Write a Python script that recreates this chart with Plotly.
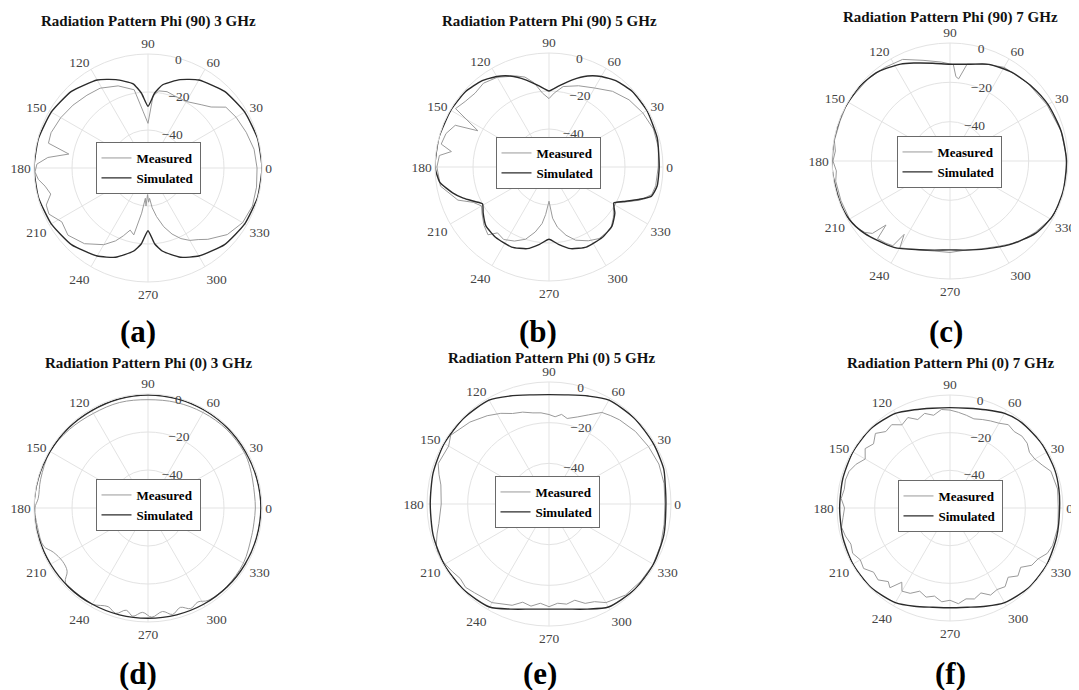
import plotly.graph_objects as go

# ---------------- data (dB vs angle in degrees) ----------------
titles = ["Radiation Pattern Phi (90) 3 GHz", "Radiation Pattern Phi (90) 5 GHz",
          "Radiation Pattern Phi (90) 7 GHz", "Radiation Pattern Phi (0) 3 GHz",
          "Radiation Pattern Phi (0) 5 GHz", "Radiation Pattern Phi (0) 7 GHz"]
panel_tags = ["(a)", "(b)", "(c)", "(d)", "(e)", "(f)"]
angle_ticks = [0, 30, 60, 90, 120, 150, 180, 210, 240, 270, 300, 330]
radial_ticks = [-40, -20, 0]

# (a) Phi 90, 3 GHz
a_sim_th = [0, 15, 30, 45, 60, 70, 80, 85, 90, 95, 100, 110, 120, 135, 150, 165, 180, 195, 210, 225,
            240, 250, 260, 265, 270, 275, 280, 290, 300, 315, 330, 345, 360]
a_sim = [0, -0.3, -1.2, -3, -6.5, -10.5, -15.5, -20.5, -27.5, -20.5, -15, -10.5, -6.5, -3, -1.2, -0.3,
         0, -0.3, -1.2, -3, -6.5, -10, -15.5, -20, -27, -20, -15.5, -10, -6.5, -3, -1.2, -0.3, 0]
a_meas_th = [0, 10, 20, 30, 38, 44, 50, 60, 70, 76, 82, 86, 90, 95, 100, 110, 121, 130, 140, 150, 160,
             166, 170, 174, 178, 182, 186, 190, 195, 200, 205, 212, 220, 230, 240, 246, 250, 254, 258,
             262, 265, 267, 269, 271, 273, 276, 280, 285, 290, 295, 300, 305, 310, 320, 330, 340, 350,
             360]
a_meas = [-2.6, -3.3, -5, -6.5, -8, -13.8, -16.5, -19.6, -19.5, -18.6, -19, -22, -36.5, -30, -18.2,
          -14, -11, -10, -8.5, -7, -5.7, -6, -17.7, -7, -1.5, -0.5, -2, -5, -7, -3, -2.5, -6.5, -5, -8,
          -13.4, -18, -22, -26, -24, -36, -44, -40, -46, -42, -44, -39, -34, -28, -23, -19, -16, -14,
          -11, -5.5, -2.5, -1.5, -2, -2.6]

# (b) Phi 90, 5 GHz
b_sim_th = [0, 15, 30, 42, 52, 60, 67, 75, 83, 90, 97, 105, 113, 120, 128, 138, 150, 165, 180, 188,
            195, 200, 205, 209, 215, 223, 233, 245, 255, 263, 270, 277, 285, 295, 307, 317, 325, 331,
            335, 340, 344, 350, 360]
b_sim = [-2, -1, -0.5, -0.8, -2.5, -5, -8, -12.5, -17, -20, -17, -12.5, -8, -5, -2.5, -0.8, -0.3, 0,
         0, -2, -7.5, -12, -17, -20, -17.7, -14.6, -13.5, -13.5, -15.5, -19, -22, -19, -15.5, -13.5,
         -13.5, -14.6, -17.7, -21, -17, -10, -4, -2.2, -2]
b_meas_th = [0, 10, 20, 30, 40, 50, 60, 70, 80, 86, 90, 95, 100, 105, 110, 120, 128, 135, 142, 148,
             153, 156, 162, 168, 171, 174, 180, 190, 200, 205, 210, 215, 222, 228, 232, 238, 245, 252,
             258, 263, 266, 270, 274, 278, 284, 290, 298, 305, 315, 322, 328, 332, 336, 340, 345, 350,
             360]
b_meas = [-2.5, -1.5, -1.5, -3, -5, -8, -12, -14.5, -17, -21, -24, -21, -15, -11, -9, -5.5, -4, -5,
          -4, -2, -18, -6, -3, -2, -8, -2, -1, -2, -9, -16, -19, -17, -14, -12, -16, -15, -17, -20, -25,
          -30, -35, -42, -33, -28, -23, -19, -16, -14, -14, -17, -20, -20, -15, -9, -4, -3, -2.5]

# (c) Phi 90, 7 GHz
c_sim_th = [0, 15, 30, 42, 55, 68, 78, 90, 100, 110, 117, 129, 140, 155, 170, 185, 200, 210, 220, 237,
            251, 260, 270, 280, 292, 305, 320, 332, 345, 360]
c_sim = [-0.8, -1.5, -2.5, -3.7, -5, -7, -9.7, -10.8, -9.5, -7, -4.7, -1.7, -0.5, 0, 0, 0, -0.3, -0.8,
         -3, -7.6, -12.3, -14, -14.8, -14, -11.8, -7.9, -3, -0.8, -0.5, -0.8]
c_meas_th = [0, 15, 30, 45, 60, 70, 80, 84, 86, 88, 95, 105, 115, 125, 135, 150, 160, 170, 175, 180,
             185, 190, 200, 210, 215, 220, 223, 225, 227, 232, 236, 238, 240, 250, 260, 270, 280, 290,
             300, 310, 320, 330, 340, 350, 360]
c_meas = [-0.3, -1.5, -3, -4, -5, -7.5, -10, -18, -17, -11, -9.5, -7, -3, -2, -1, 0, -0.5, -0.3, -1.5,
          -0.5, -2, -1, -1, -1, -1.5, -3.5, -6, -14, -6, -7, -8, -16, -9, -12, -13.5, -13.5, -14, -12.5,
          -10, -6, -3.5, -1, 0, -0.3, -0.3]

# (d) Phi 0, 3 GHz
d_sim_th = [0, 15, 30, 45, 60, 75, 90, 105, 120, 135, 150, 165, 180, 195, 210, 225, 240, 255, 270, 285,
            300, 315, 330, 345, 360]
d_sim = [-0.6, -0.7, -0.8, -0.7, -0.6, -0.5, -0.5, -0.6, -0.8, -0.6, -0.5, -0.2, 0, -0.4, -0.8, -1.1,
         -1.5, -1.8, -2, -1.8, -1.5, -1.2, -1, -0.8, -0.6]
d_meas_th = [0, 7, 15, 22, 30, 45, 60, 75, 90, 105, 120, 135, 150, 165, 175, 180, 190, 200, 205, 212,
             218, 222, 230, 240, 248, 253, 258, 262, 267, 272, 278, 283, 288, 293, 298, 303, 315, 330,
             345, 352, 360]
d_meas = [-3.5, -3.5, -3, -2.2, -1.5, -1.5, -2, -2.5, -3, -2.5, -2.5, -1.5, -0.5, -1.5, -2, -0.5, -1,
          -1.5, -5, -7, -6, -1.5, -1, -1.5, -4, -2, -5, -2.5, -5, -2.5, -5, -2.5, -5, -2.5, -4, -2, -1.5,
          -2, -3.5, -3.7, -3.5]

# (e) Phi 0, 5 GHz
e_sim_th = [0, 10, 17, 30, 45, 60, 70, 80, 90, 100, 110, 120, 135, 150, 165, 180, 195, 210, 225, 240,
            250, 260, 270, 280, 290, 300, 315, 330, 345, 360]
e_sim = [-2.5, -2, -1, -0.7, -0.5, -1, -3.5, -5.5, -6.2, -5.5, -3.5, -1, -0.5, -0.5, -1, -1.6, -1,
         -0.5, -0.5, -1.5, -5, -7.5, -8.3, -7.5, -5, -1.5, -0.5, -0.7, -1.5, -2.5]
e_meas_th = [0, 10, 20, 30, 40, 50, 55, 60, 66, 72, 78, 82, 86, 90, 95, 100, 106, 112, 118, 125, 134,
             145, 150, 160, 165, 170, 180, 190, 195, 200, 205, 210, 215, 220, 225, 230, 240, 250, 255,
             260, 265, 270, 275, 280, 285, 290, 295, 300, 310, 320, 330, 340, 350, 360]
e_meas = [-3, -2.5, -2.5, -3.5, -4.5, -6, -7, -8, -12, -15, -17, -15.5, -17, -16, -15, -14.5, -13, -12,
          -9.5, -7, -4, -1, -3, -2, -4, -6, -7, -5, -3, -1, 0, -1, -2, -3, -2, -3, -4, -7, -10, -9, -11,
          -9.5, -11, -10, -11, -8, -7, -4, -1.5, -1, -0.8, -1.5, -2.5, -3]

# (f) Phi 0, 7 GHz
f_sim_th = [0, 10, 20, 35, 50, 60, 70, 80, 90, 100, 110, 120, 135, 150, 165, 180, 195, 210, 225, 240,
            250, 260, 270, 280, 290, 300, 315, 330, 345, 360]
f_sim = [-1.8, -1.3, -0.8, -0.5, -0.8, -2, -4.5, -6.2, -6.7, -6.2, -4.5, -2, -0.5, -0.5, -1, -1.4, -1,
         -0.5, -0.5, -2, -4.5, -6.5, -7, -6.5, -4.5, -2, -0.5, -0.5, -1.3, -1.8]
f_meas_th = [0, 10, 20, 25, 30, 35, 40, 45, 50, 55, 60, 65, 70, 75, 80, 85, 90, 95, 100, 105, 110, 115,
             120, 125, 130, 135, 140, 145, 150, 155, 160, 165, 170, 175, 180, 185, 190, 195, 200, 205,
             210, 215, 220, 225, 230, 233, 237, 240, 245, 250, 255, 260, 265, 270, 275, 280, 285, 290,
             295, 300, 305, 310, 315, 320, 325, 330, 335, 340, 350, 360]
f_meas = [-2.5, -2, -3, -6, -8, -8.5, -6.5, -6, -7, -6, -8, -9, -10, -11, -10, -9, -8, -7.5, -10, -8,
          -10, -7, -9, -6, -7, -4, -7, -5, -8, -5, -3, -2.5, -3, -2, -4, -3, -1.5, -2.5, -4, -3, -5, -4,
          -7, -6, -9, -7, -13, -9, -10, -13, -11, -12.5, -10, -11, -9, -11, -10, -12, -9, -10, -9, -12,
          -9, -11, -7, -6, -3, -2, -1.8, -2.5]

sim_th = [a_sim_th, b_sim_th, c_sim_th, d_sim_th, e_sim_th, f_sim_th]
sim_db = [a_sim, b_sim, c_sim, d_sim, e_sim, f_sim]
meas_th = [a_meas_th, b_meas_th, c_meas_th, d_meas_th, e_meas_th, f_meas_th]
meas_db = [a_meas, b_meas, c_meas, d_meas, e_meas, f_meas]

# ---------------- layout geometry (page pixels) ----------------
PAGE_OFF = 8                      # default body margin of the html page
W, H = 1079 - PAGE_OFF, 690 - PAGE_OFF
centres = [(148, 168), (549, 167), (950, 161), (148, 508), (549, 504), (950, 508)]
radii = [114, 114, 118, 114, 122, 113]
title_pos = [(148, 22), (549, 22), (950, 18), (148, 363), (551, 358), (950, 363)]
tag_pos = [(138, 331), (538, 331), (946, 331), (138, 673), (540, 673), (950, 673)]
legend_pos = [(148, 168), (548, 163), (949, 162), (148, 505), (547, 502), (950, 506)]
meas_shape = ["linear", "linear", "linear", "spline", "linear", "linear"]
sim_smooth = [0.5, 0.5, 0.7, 1.0, 0.7, 0.7]


def px(x):
    return (x - PAGE_OFF) / W


def py(y):
    return 1 - (y - PAGE_OFF) / H


SERIF = "Liberation Serif, Times New Roman, serif"
GRID = "#e3e3e3"

fig = go.Figure()
layout = dict(
    width=W, height=H, margin=dict(l=0, r=0, t=0, b=0),
    paper_bgcolor="white", plot_bgcolor="white", showlegend=True,
    font=dict(family=SERIF, size=13.5, color="#333333"),
)
annotations = []
for i in range(6):
    pk = "polar" if i == 0 else f"polar{i+1}"
    lk = "legend" if i == 0 else f"legend{i+1}"
    cx, cy = centres[i]
    R = radii[i]
    layout[pk] = dict(
        domain=dict(x=[px(cx - R), px(cx + R)], y=[py(cy + R), py(cy - R)]),
        bgcolor="white",
        radialaxis=dict(range=[-60, 0], tickvals=radial_ticks, angle=80, tickangle=80,
                        showline=False, ticks="", gridcolor=GRID, gridwidth=1,
                        tickfont=dict(family=SERIF, size=13.5, color="#444444")),
        angularaxis=dict(tickvals=angle_ticks, ticks="", gridcolor=GRID, gridwidth=1,
                         linecolor=GRID, linewidth=1, rotation=0, direction="counterclockwise",
                         tickfont=dict(family=SERIF, size=13.5, color="#444444")),
    )
    lx, ly = legend_pos[i]
    layout[lk] = dict(x=px(lx), y=py(ly), xanchor="center", yanchor="middle",
                      bgcolor="white", bordercolor="#6a6a6a", borderwidth=1,
                      font=dict(family=SERIF, size=13, color="black", weight="bold"),
                      tracegroupgap=0, itemwidth=30)
    fig.add_trace(go.Scatterpolar(theta=meas_th[i], r=meas_db[i], mode="lines", name="Measured",
                                  line=dict(color="#9a9a9a", width=1, shape=meas_shape[i]),
                                  subplot=pk, legend=lk))
    fig.add_trace(go.Scatterpolar(theta=sim_th[i], r=sim_db[i], mode="lines", name="Simulated",
                                  line=dict(color="#2b2b2b", width=1.4, shape="spline",
                                            smoothing=sim_smooth[i]),
                                  subplot=pk, legend=lk))
    tx, ty = title_pos[i]
    annotations.append(dict(x=px(tx), y=py(ty), xref="paper", yref="paper", showarrow=False,
                            text=f"<b>{titles[i]}</b>", xanchor="center", yanchor="middle",
                            font=dict(family=SERIF, size=15, color="#111111")))
    gx, gy = tag_pos[i]
    annotations.append(dict(x=px(gx), y=py(gy), xref="paper", yref="paper", showarrow=False,
                            text=f"<b>{panel_tags[i]}</b>", xanchor="center", yanchor="middle",
                            font=dict(family=SERIF, size=31, color="black")))
layout["annotations"] = annotations
fig.update_layout(**layout)
fig.write_html("out.html")
